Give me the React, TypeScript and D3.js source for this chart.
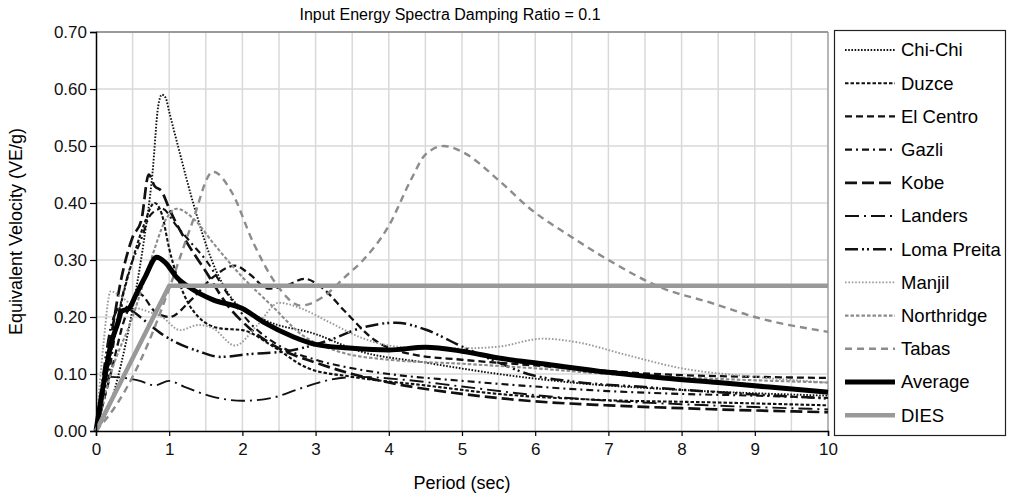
import React, { useEffect, useRef } from 'react';
import * as d3 from 'd3';

type Pt = [number, number];

// period (sec), equivalent velocity (VE/g)
const chiChi: Pt[] = [[0, 0], [0.2, 0.05], [0.4, 0.15], [0.55, 0.25], [0.65, 0.33], [0.77, 0.45], [0.85, 0.57], [0.9, 0.59], [0.95, 0.585], [1.0, 0.56], [1.12, 0.5], [1.35, 0.39], [1.58, 0.3], [1.87, 0.23], [2.3, 0.195], [3.0, 0.17], [3.6, 0.14], [4.5, 0.12], [5.5, 0.1], [6.5, 0.085], [8, 0.072], [10, 0.062]];
const duzce: Pt[] = [[0, 0], [0.15, 0.1], [0.3, 0.2], [0.5, 0.3], [0.65, 0.36], [0.8, 0.4], [0.9, 0.38], [1.0, 0.32], [1.2, 0.24], [1.4, 0.2], [1.7, 0.18], [2.0, 0.177], [2.4, 0.15], [2.9, 0.11], [3.5, 0.095], [4.5, 0.08], [5.5, 0.065], [6.8, 0.055], [8.5, 0.05], [10, 0.045]];
const elCentro: Pt[] = [[0, 0], [0.2, 0.1], [0.4, 0.2], [0.6, 0.24], [0.8, 0.21], [1.0, 0.2], [1.3, 0.23], [1.6, 0.27], [1.9, 0.29], [2.1, 0.275], [2.35, 0.25], [2.6, 0.255], [2.85, 0.267], [3.1, 0.25], [3.4, 0.21], [3.8, 0.16], [4.3, 0.135], [5.0, 0.125], [6.0, 0.115], [7.0, 0.105], [8.0, 0.098], [9, 0.095], [10, 0.093]];
const gazli: Pt[] = [[0, 0], [0.15, 0.08], [0.3, 0.2], [0.45, 0.28], [0.6, 0.33], [0.75, 0.38], [0.9, 0.39], [1.1, 0.36], [1.3, 0.33], [1.5, 0.3], [1.8, 0.24], [2.1, 0.19], [2.5, 0.15], [3.0, 0.125], [3.5, 0.11], [4.0, 0.1], [5.0, 0.088], [6.0, 0.078], [7.0, 0.07], [8.0, 0.065], [9, 0.062], [10, 0.058]];
const kobe: Pt[] = [[0, 0], [0.1, 0.08], [0.2, 0.16], [0.35, 0.27], [0.5, 0.34], [0.62, 0.37], [0.72, 0.45], [0.8, 0.43], [0.9, 0.42], [1.0, 0.39], [1.2, 0.34], [1.5, 0.28], [1.8, 0.22], [2.1, 0.18], [2.5, 0.145], [3.0, 0.12], [3.5, 0.1], [4.0, 0.085], [5.0, 0.065], [6.0, 0.052], [7.0, 0.045], [8, 0.04], [9, 0.036], [10, 0.033]];
const landers: Pt[] = [[0, 0], [0.1, 0.06], [0.2, 0.095], [0.4, 0.093], [0.6, 0.088], [0.8, 0.08], [1.0, 0.088], [1.2, 0.078], [1.6, 0.06], [2.0, 0.053], [2.4, 0.058], [2.8, 0.075], [3.2, 0.09], [3.6, 0.095], [4.2, 0.09], [5.0, 0.078], [6.0, 0.063], [7.0, 0.053], [8.0, 0.047], [9.0, 0.042], [10, 0.038]];
const lomaPreita: Pt[] = [[0, 0], [0.1, 0.1], [0.2, 0.18], [0.35, 0.22], [0.5, 0.21], [0.7, 0.19], [0.9, 0.17], [1.1, 0.155], [1.4, 0.14], [1.7, 0.13], [2.1, 0.135], [2.6, 0.14], [3.2, 0.16], [3.6, 0.18], [4.1, 0.19], [4.5, 0.178], [5.0, 0.148], [5.5, 0.12], [5.9, 0.1], [6.5, 0.087], [7.5, 0.077], [8.5, 0.068], [10, 0.057]];
const manjil: Pt[] = [[0, 0], [0.1, 0.15], [0.2, 0.245], [0.35, 0.235], [0.5, 0.22], [0.7, 0.21], [0.9, 0.2], [1.15, 0.177], [1.4, 0.186], [1.6, 0.18], [1.9, 0.15], [2.2, 0.185], [2.5, 0.225], [2.8, 0.215], [3.2, 0.19], [3.6, 0.165], [4.0, 0.15], [4.5, 0.145], [5.0, 0.145], [5.5, 0.148], [6.1, 0.162], [6.6, 0.155], [7.2, 0.135], [8.0, 0.11], [9.0, 0.095], [10, 0.085]];
const northridge: Pt[] = [[0, 0], [0.2, 0.1], [0.5, 0.2], [0.75, 0.3], [0.95, 0.37], [1.1, 0.39], [1.35, 0.37], [1.6, 0.33], [2.0, 0.27], [2.4, 0.22], [2.8, 0.17], [3.3, 0.14], [4.0, 0.125], [5.0, 0.118], [6.0, 0.11], [7.0, 0.1], [8.0, 0.094], [9.0, 0.089], [10, 0.085]];
const tabas: Pt[] = [[0, 0], [0.3, 0.05], [0.7, 0.15], [1.0, 0.25], [1.3, 0.36], [1.6, 0.455], [1.85, 0.42], [2.15, 0.33], [2.45, 0.26], [2.8, 0.22], [3.1, 0.235], [3.4, 0.27], [3.65, 0.3], [4.0, 0.36], [4.3, 0.44], [4.5, 0.485], [4.75, 0.5], [5.0, 0.49], [5.5, 0.44], [5.93, 0.39], [6.5, 0.34], [7.0, 0.3], [7.75, 0.25], [8.4, 0.225], [9.0, 0.2], [10, 0.174]];
const average: Pt[] = [[0, 0], [0.1, 0.08], [0.2, 0.15], [0.3, 0.19], [0.35, 0.21], [0.45, 0.215], [0.55, 0.24], [0.67, 0.27], [0.83, 0.305], [0.95, 0.295], [1.1, 0.27], [1.3, 0.25], [1.6, 0.23], [2.0, 0.215], [2.3, 0.19], [2.7, 0.165], [3.0, 0.152], [3.5, 0.145], [4.0, 0.142], [4.5, 0.147], [5.0, 0.14], [5.5, 0.128], [6.1, 0.118], [7.0, 0.103], [7.75, 0.093], [8.5, 0.085], [9.2, 0.077], [10, 0.068]];
const dies: Pt[] = [[0, 0], [1, 0.255], [10, 0.255]];

const xTicks = [0, 1, 2, 3, 4, 5, 6, 7, 8, 9, 10];
const yTicks = [0, 0.1, 0.2, 0.3, 0.4, 0.5, 0.6, 0.7];

const series = [
  { name: 'Chi-Chi', data: chiChi, color: '#111', width: 1.9, dash: '1.6,1.6' },
  { name: 'Duzce', data: duzce, color: '#111', width: 2.1, dash: '3.5,2' },
  { name: 'El Centro', data: elCentro, color: '#111', width: 2.3, dash: '7,4' },
  { name: 'Gazli', data: gazli, color: '#111', width: 2.1, dash: '7,4,2,4' },
  { name: 'Kobe', data: kobe, color: '#111', width: 2.7, dash: '12,5' },
  { name: 'Landers', data: landers, color: '#111', width: 1.9, dash: '14,5,2,5' },
  { name: 'Loma Preita', data: lomaPreita, color: '#111', width: 2.5, dash: '13,4,2,3,2,4' },
  { name: 'Manjil', data: manjil, color: '#9a9a9a', width: 1.9, dash: '1.6,1.8' },
  { name: 'Northridge', data: northridge, color: '#8c8c8c', width: 2.1, dash: '3.5,2' },
  { name: 'Tabas', data: tabas, color: '#8c8c8c', width: 2.4, dash: '7,5' },
  { name: 'Average', data: average, color: '#000', width: 5, dash: null },
  { name: 'DIES', data: dies, color: '#999', width: 4.5, dash: null, linear: true },
];

const font = 'Liberation Sans, Arial, sans-serif';

function Chart() {
  const ref = useRef<SVGSVGElement>(null);

  useEffect(() => {
    const svg = d3.select(ref.current);
    svg.selectAll('*').remove();

    const margin = { top: 32, right: 184, bottom: 62, left: 96 };
    const width = 1012;
    const height = 493;

    const x = d3.scaleLinear().domain([0, 10]).range([margin.left, width - margin.right]);
    const y = d3.scaleLinear().domain([0, 0.7]).range([height - margin.bottom, margin.top]);

    // grid
    const grid = svg.append('g');
    grid.selectAll('line.v')
      .data(d3.range(0.5, 10.01, 0.5))
      .enter().append('line')
      .attr('x1', d => x(d)).attr('x2', d => x(d))
      .attr('y1', y(0)).attr('y2', y(0.7))
      .attr('stroke', '#d9d9d9').attr('stroke-width', 1.5);
    grid.selectAll('line.h')
      .data(yTicks.slice(1))
      .enter().append('line')
      .attr('x1', x(0)).attr('x2', x(10))
      .attr('y1', d => y(d)).attr('y2', d => y(d))
      .attr('stroke', '#d9d9d9').attr('stroke-width', 1.5);
    svg.append('line')
      .attr('x1', x(0)).attr('x2', x(10)).attr('y1', y(0.7)).attr('y2', y(0.7))
      .attr('stroke', '#555').attr('stroke-width', 1.2);
    svg.append('line')
      .attr('x1', x(10)).attr('x2', x(10)).attr('y1', y(0.7)).attr('y2', y(0))
      .attr('stroke', '#999').attr('stroke-width', 1.2);

    // lines
    const lines = svg.append('g').attr('fill', 'none');
    series.forEach(s => {
      const line = d3.line<Pt>()
        .x(d => x(d[0]))
        .y(d => y(d[1]))
        .curve(s.linear ? d3.curveLinear : d3.curveMonotoneX);
      const p = lines.append('path')
        .datum(s.data)
        .attr('stroke', s.color)
        .attr('stroke-width', s.width)
        .attr('stroke-linejoin', 'round')
        .attr('d', line);
      if (s.dash) p.attr('stroke-dasharray', s.dash);
    });

    // axes
    svg.append('g')
      .attr('transform', `translate(0,${y(0)})`)
      .call(d3.axisBottom(x).tickValues(xTicks).tickSize(5).tickFormat(d3.format('d')))
      .call(g => g.select('.domain').attr('stroke-width', 1.5))
      .call(g => g.selectAll('.tick line').attr('stroke-width', 1.2))
      .call(g => g.selectAll('text').attr('font-size', 17).attr('font-family', font).attr('dy', '0.95em').attr('fill', '#111'));

    svg.append('g')
      .attr('transform', `translate(${x(0)},0)`)
      .call(d3.axisLeft(y).tickValues(yTicks).tickSize(6).tickFormat(d3.format('.2f')))
      .call(g => g.select('.domain').attr('stroke-width', 1.5))
      .call(g => g.selectAll('.tick line').attr('stroke-width', 1.2))
      .call(g => g.selectAll('text').attr('font-size', 17).attr('font-family', font).attr('x', -9).attr('fill', '#111'));

    svg.append('text')
      .attr('x', 450).attr('y', 20)
      .attr('text-anchor', 'middle')
      .attr('font-family', font).attr('font-size', 16)
      .text('Input Energy Spectra Damping Ratio = 0.1');

    svg.append('text')
      .attr('x', x(5)).attr('y', 489)
      .attr('text-anchor', 'middle')
      .attr('font-family', font).attr('font-size', 18)
      .text('Period (sec)');

    svg.append('text')
      .attr('transform', `translate(22,${(y(0) + y(0.7)) / 2}) rotate(-90)`)
      .attr('text-anchor', 'middle')
      .attr('font-family', font).attr('font-size', 18)
      .text('Equivalent Velocity (VE/g)');

    // legend
    const lg = svg.append('g');
    lg.append('rect')
      .attr('x', 834.5).attr('y', 30.5).attr('width', 171).attr('height', 405)
      .attr('fill', 'white').attr('stroke', '#222').attr('stroke-width', 1.2);
    series.forEach((s, i) => {
      const ly = 50 + i * 33.2;
      const l = lg.append('line')
        .attr('x1', 845).attr('x2', 895).attr('y1', ly).attr('y2', ly)
        .attr('stroke', s.color).attr('stroke-width', s.width);
      if (s.dash) l.attr('stroke-dasharray', s.dash);
      lg.append('text')
        .attr('x', 901).attr('y', ly).attr('dy', '0.35em')
        .attr('font-family', font).attr('font-size', 18.5)
        .text(s.name);
    });
  }, []);

  return <svg ref={ref} width={1012} height={493} style={{ position: 'absolute', left: 0, top: 0, background: 'white' }} />;
}

export default function App() {
  return <Chart />;
}
